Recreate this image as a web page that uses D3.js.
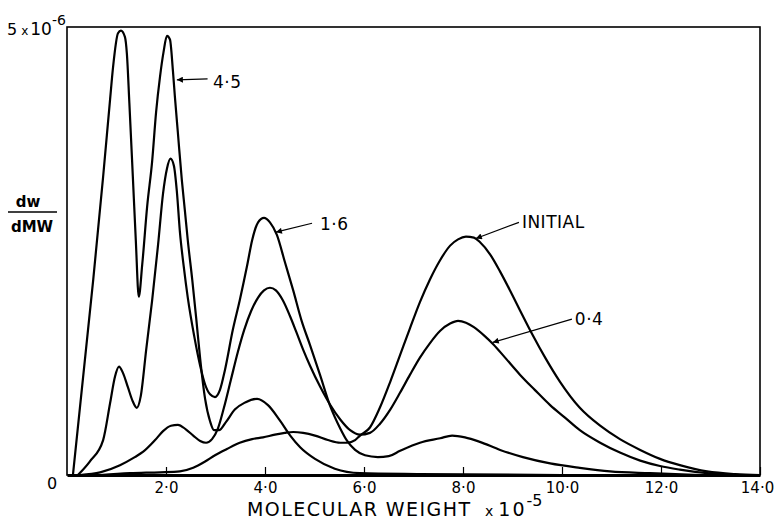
<!DOCTYPE html>
<html><head><meta charset="utf-8">
<script src="https://cdn.jsdelivr.net/npm/d3@7"></script>
<style>
body{margin:0;background:#fff}
svg{display:block;background:#fff}
text{font-family:"DejaVu Sans",sans-serif;fill:#000}
</style>
</head><body>
<svg id="chart" width="778" height="523"></svg>
<script>
// x: molecular weight (x10^-5), y: dw/dMW (x10^-6)
const xTickValues = [2, 4, 6, 8, 10, 12, 14];
const xTickLabels = ["2·0", "4·0", "6·0", "8·0", "10·0", "12·0", "14·0"];
const seriesNames = ["INITIAL", "0·4", "1·6", "4·5"];

const curveInitial = [[0.67,0],[1.27,0.02],[1.88,0.03],[2.28,0.04],[2.55,0.08],[2.79,0.15],[2.99,0.22],[3.23,0.29],[3.49,0.36],[3.74,0.40],[3.96,0.42],[4.20,0.45],[4.40,0.47],[4.57,0.48],[4.77,0.47],[5.01,0.44],[5.27,0.39],[5.52,0.36],[5.66,0.36],[5.82,0.39],[5.92,0.44],[6.12,0.53],[6.32,0.75],[6.53,1.04],[6.73,1.34],[6.93,1.64],[7.13,1.93],[7.33,2.18],[7.54,2.40],[7.74,2.56],[7.90,2.63],[8.06,2.66],[8.22,2.65],[8.34,2.60],[8.55,2.46],[8.75,2.27],[8.95,2.06],[9.15,1.84],[9.41,1.56],[9.66,1.31],[9.96,1.04],[10.36,0.75],[10.77,0.55],[11.17,0.40],[11.58,0.28],[11.98,0.18],[12.38,0.11],[12.93,0.04],[13.5,0.01],[14,0]];

const curve04 = [[0.26,0],[0.67,0.03],[1.07,0.11],[1.37,0.20],[1.54,0.26],[1.78,0.39],[1.94,0.49],[2.10,0.55],[2.24,0.56],[2.40,0.51],[2.55,0.44],[2.69,0.38],[2.81,0.36],[2.93,0.40],[3.05,0.52],[3.17,0.75],[3.31,1.06],[3.45,1.37],[3.58,1.62],[3.72,1.83],[3.86,1.98],[3.98,2.06],[4.10,2.09],[4.22,2.06],[4.36,1.95],[4.50,1.78],[4.63,1.60],[4.77,1.40],[4.91,1.22],[5.11,0.99],[5.31,0.79],[5.52,0.62],[5.72,0.50],[5.92,0.45],[6.12,0.47],[6.32,0.57],[6.53,0.73],[6.73,0.92],[6.93,1.12],[7.13,1.31],[7.33,1.47],[7.54,1.61],[7.74,1.69],[7.90,1.72],[8.06,1.70],[8.22,1.65],[8.44,1.55],[8.61,1.46],[8.85,1.31],[9.15,1.12],[9.45,0.95],[9.76,0.78],[10.06,0.64],[10.36,0.50],[10.77,0.36],[11.17,0.25],[11.58,0.16],[11.98,0.10],[12.38,0.06],[12.93,0.02],[13.6,0]];

const curve16 = [[0.22,0],[0.46,0.15],[0.73,0.39],[0.87,0.80],[0.97,1.10],[1.05,1.21],[1.13,1.14],[1.23,0.98],[1.33,0.82],[1.41,0.75],[1.49,0.88],[1.60,1.40],[1.72,1.95],[1.84,2.57],[1.94,3.14],[2.02,3.42],[2.09,3.53],[2.16,3.45],[2.22,3.16],[2.28,2.72],[2.36,2.32],[2.44,1.98],[2.57,1.55],[2.69,1.22],[2.79,1.01],[2.89,0.90],[2.99,0.87],[3.09,0.95],[3.19,1.17],[3.35,1.62],[3.49,1.95],[3.64,2.34],[3.74,2.62],[3.86,2.82],[3.98,2.87],[4.10,2.82],[4.24,2.68],[4.40,2.38],[4.57,2.06],[4.74,1.72],[4.91,1.45],[5.11,1.12],[5.31,0.78],[5.52,0.52],[5.66,0.38],[5.82,0.28],[6.02,0.22],[6.28,0.20],[6.50,0.21],[6.73,0.27],[7.13,0.36],[7.54,0.41],[7.78,0.44],[8.04,0.42],[8.34,0.37],[8.75,0.28],[9.21,0.20],[9.76,0.13],[10.36,0.08],[10.97,0.04],[11.78,0.02],[12.8,0]];

const curve45 = [[0.12,0],[0.53,2.18],[0.73,3.33],[0.87,4.19],[0.93,4.55],[1.03,4.93],[1.09,4.96],[1.17,4.89],[1.21,4.70],[1.26,4.15],[1.33,3.33],[1.39,2.62],[1.45,1.99],[1.52,2.35],[1.62,3.0],[1.72,3.50],[1.80,4.05],[1.88,4.45],[1.95,4.72],[2.02,4.90],[2.08,4.86],[2.14,4.51],[2.18,4.22],[2.24,3.82],[2.32,3.29],[2.38,2.96],[2.44,2.62],[2.53,2.18],[2.61,1.75],[2.69,1.30],[2.79,0.85],[2.89,0.60],[2.97,0.50],[3.07,0.50],[3.21,0.59],[3.39,0.73],[3.60,0.81],[3.84,0.85],[4.06,0.78],[4.30,0.61],[4.51,0.44],[4.71,0.31],[5.01,0.18],[5.41,0.07],[5.92,0.02],[7.13,0.01],[10.0,0]];

const seriesData = [curveInitial, curve04, curve16, curve45];

const svg = d3.select("#chart");
const x = d3.scaleLinear().domain([0, 14]).range([67, 760]);
const y = d3.scaleLinear().domain([0, 5]).range([475, 27]);

// frame
svg.append("rect")
  .attr("x", x(0)).attr("y", y(5))
  .attr("width", x(14) - x(0)).attr("height", y(0) - y(5))
  .attr("fill", "none").attr("stroke", "#000").attr("stroke-width", 1.6);

// x axis
const axis = d3.axisBottom(x)
  .tickValues(xTickValues)
  .tickFormat((d, i) => xTickLabels[i])
  .tickSizeInner(-8).tickSizeOuter(0).tickPadding(7);
const gx = svg.append("g").attr("transform", `translate(0,${y(0)})`).call(axis)
  .attr("font-family", "DejaVu Sans, sans-serif").attr("font-size", 15);
gx.select(".domain").attr("stroke", "#000").attr("stroke-width", 3);
gx.selectAll(".tick line").attr("stroke", "#000").attr("stroke-width", 1.2);
gx.selectAll(".tick text").attr("fill", "#000")
  .attr("dx", d => d === 14 ? -3 : 0);

svg.append("text").attr("x", x(0) - 15).attr("y", 489)
  .attr("text-anchor", "middle").attr("font-size", 16).text("0");

// curves
const line = d3.line().x(d => x(d[0])).y(d => y(d[1])).curve(d3.curveMonotoneX);
svg.append("g").selectAll("path").data(seriesData).join("path")
  .attr("d", line).attr("fill", "none").attr("stroke", "#000")
  .attr("stroke-width", 2.2).attr("stroke-linejoin", "round");

// arrow marker
svg.append("defs").append("marker")
  .attr("id", "arr").attr("viewBox", "0 0 10 10").attr("refX", 10).attr("refY", 5)
  .attr("markerWidth", 9).attr("markerHeight", 6).attr("markerUnits", "userSpaceOnUse")
  .attr("orient", "auto")
  .append("path").attr("d", "M0,0 L10,5 L0,10 Z").attr("fill", "#000");

// annotations (data coordinates)
const annots = [
  {name: seriesNames[3], tip: [2.22, 4.41], from: [2.84, 4.42], text: [2.95, 4.32]},
  {name: seriesNames[2], tip: [4.22, 2.71], from: [4.95, 2.81], text: [5.11, 2.73]},
  {name: seriesNames[0], tip: [8.26, 2.64], from: [9.13, 2.82], text: [9.19, 2.76]},
  {name: seriesNames[1], tip: [8.60, 1.48], from: [10.20, 1.74], text: [10.26, 1.67]}
];
const ga = svg.append("g");
annots.forEach(a => {
  ga.append("line")
    .attr("x1", x(a.from[0])).attr("y1", y(a.from[1]))
    .attr("x2", x(a.tip[0])).attr("y2", y(a.tip[1]))
    .attr("stroke", "#000").attr("stroke-width", 1.2)
    .attr("marker-end", "url(#arr)");
  ga.append("text").attr("x", x(a.text[0])).attr("y", y(a.text[1]))
    .attr("font-size", 17).attr("letter-spacing", 0.5).text(a.name);
});

// y label: 5 x 10^-6 at top
const tl = svg.append("text").attr("x", 7).attr("y", 35).attr("font-size", 16);
tl.append("tspan").text("5");
tl.append("tspan").attr("dx", 4).attr("font-size", 12).text("x");
tl.append("tspan").attr("dx", 2).attr("font-size", 17).text("10");
tl.append("tspan").attr("dy", -10).attr("font-size", 14).text("-6");

// dw / dMW
svg.append("text").attr("x", 28).attr("y", 207).attr("text-anchor", "middle")
  .attr("font-size", 15).attr("font-weight", "bold").text("dw");
svg.append("line").attr("x1", 8).attr("x2", 57).attr("y1", 212).attr("y2", 212)
  .attr("stroke", "#000").attr("stroke-width", 1.6);
svg.append("text").attr("x", 32).attr("y", 232).attr("text-anchor", "middle")
  .attr("font-size", 15).attr("font-weight", "bold").text("dMW");

// x title
svg.append("text").attr("x", 247).attr("y", 516).attr("font-size", 19)
  .attr("textLength", 223).attr("lengthAdjust", "spacing").text("MOLECULAR WEIGHT");
const xt = svg.append("text").attr("x", 485).attr("y", 516).attr("font-size", 19);
xt.append("tspan").attr("font-size", 14).text("x");
xt.append("tspan").attr("dx", 5).attr("letter-spacing", 2).text("10");
xt.append("tspan").attr("dy", -10).attr("font-size", 16).text("-5");
</script>
</body></html>
